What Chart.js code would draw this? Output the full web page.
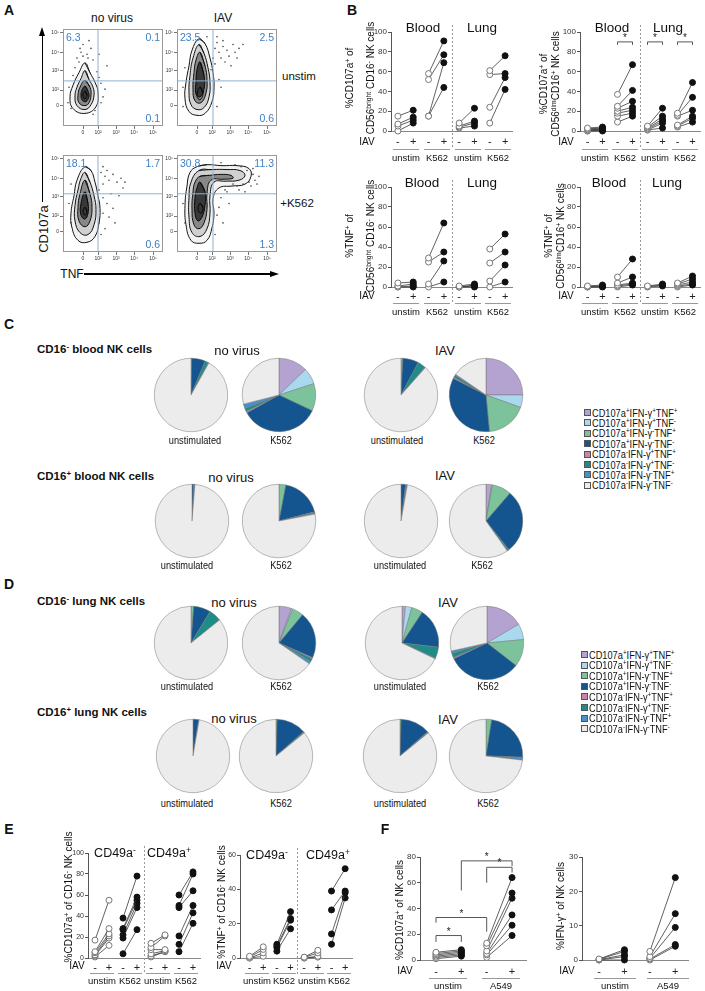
<!DOCTYPE html>
<html>
<head>
<meta charset="utf-8">
<script src="https://cdn.jsdelivr.net/npm/chart.js@4.4.1/dist/chart.umd.min.js"></script>
<style>
body { margin: 0; background: #fff; }
#page { position: relative; width: 705px; height: 991px; overflow: hidden; font-family: 'Liberation Sans', Arial, sans-serif; color: #111; }
#page canvas { position: absolute; }
.t { position: absolute; white-space: nowrap; transform: translate(-50%, -50%); line-height: 1; }
.t.l { transform: translate(0, -50%); }
.t.r { transform: translate(-100%, -50%); }
.t.rot { transform: translate(-50%, -50%) rotate(-90deg); text-align: center; }
.t.narrow { transform: translate(-50%, -50%) scaleX(0.84); }
.t.l.narrow { transform: translate(0, -50%) scaleX(0.84); transform-origin: 0 50%; }
.panel { font-weight: bold; font-size: 14px; }
sup { font-size: 68%; vertical-align: 0.5em; line-height: 0; }
.box { position: absolute; }
</style>
</head>
<body>
<div id="page"></div>
<script>
// ---- data ----
const flowTickText = ['0', '10²', '10³', '10⁴', '10⁵'];
const flowXTicks = [20, 35, 53, 71, 90];
const flowYTicks = [21, 37, 57, 76, 96];

// contour outlines (TNF, CD107a display units 0-100), outer to inner
const flowContours1 = [
  [[22,65],[27,55],[32,45],[35,35],[33,20],[22,13],[10,18],[7,30],[10,42],[16,55]],
  [[22,57],[26,48],[30,40],[31,32],[28,22],[22,17],[14,21],[12,31],[14,40],[18,49]],
  [[22,47],[27,40],[28,32],[26,24],[22,21],[16,24],[15,32],[17,40]],
  [[22,41],[25,36],[26,31],[24,26],[22,25],[19,27],[18,32],[19,37]],
  [[22,36],[24,32],[22,28],[20,32]]
];
const flowDots1 = [[14,70],[18,76],[24,74],[28,80],[20,84],[30,68],[12,60],[34,56],[38,44],[40,30],[8,18],[6,40],[32,16],[44,62],[26,88],[16,66],[36,74],[42,38],[10,52],[30,12],[20,72],[25,70],[17,80],[38,24],[5,24],[36,50]];
const flowContours2 = [
  [[22,90],[28,85],[33,70],[36,55],[37,40],[35,25],[28,13],[20,11],[12,15],[8,28],[9,45],[12,62],[15,78]],
  [[22,84],[27,75],[31,60],[33,45],[32,30],[27,19],[20,17],[14,22],[12,35],[13,52],[16,70]],
  [[23,76],[28,62],[30,48],[29,34],[24,24],[18,26],[16,38],[17,55],[19,68]],
  [[23,66],[27,52],[27,38],[23,30],[19,33],[19,46],[20,58]],
  [[23,40],[26,34],[23,27],[20,31]]
];
const flowDots2 = [[38,80],[42,76],[46,82],[50,78],[44,70],[52,72],[40,86],[56,84],[48,66],[36,70],[30,92],[58,76],[62,80],[8,60],[6,40],[40,20],[44,40],[54,62],[60,70],[34,58],[40,92],[46,88],[38,64],[6,20],[42,48],[66,84]];
const flowContours3 = [
  [[22,88],[28,84],[32,72],[35,58],[37,45],[36,30],[32,16],[24,10],[15,12],[9,25],[8,40],[11,58],[14,74]],
  [[22,82],[27,72],[31,58],[33,44],[31,28],[25,18],[17,20],[12,32],[12,48],[15,64],[18,76]],
  [[22,74],[27,60],[29,46],[27,32],[22,26],[16,32],[15,46],[17,60]],
  [[22,62],[25,50],[25,40],[22,34],[18,38],[18,50]],
  [[22,46],[24,42],[22,38],[20,42]]
];
const flowDots3 = [[38,82],[42,78],[46,74],[50,80],[54,72],[40,70],[36,64],[58,76],[48,60],[44,50],[40,40],[36,30],[50,45],[8,30],[8,70],[56,58],[60,66],[38,18],[46,36],[52,30],[40,88],[44,84],[62,72],[40,56],[6,50],[42,24]];
const flowContours4 = [
  [[20,88],[30,90],[45,89],[60,89],[72,86],[74,78],[68,70],[55,68],[42,66],[36,55],[37,40],[35,25],[30,12],[22,9],[14,12],[9,28],[8,48],[10,68],[13,82]],
  [[22,84],[35,85],[50,85],[63,84],[68,79],[62,74],[48,73],[37,72],[33,58],[33,40],[30,24],[23,16],[15,20],[12,36],[12,56],[14,72]],
  [[23,78],[32,79],[44,80],[54,79],[56,76],[46,75],[34,74],[30,60],[30,44],[27,30],[22,24],[17,28],[15,44],[16,62],[18,72]],
  [[23,72],[28,62],[28,48],[25,36],[21,32],[18,40],[18,56],[20,66]],
  [[23,50],[26,46],[24,40],[21,44]]
];
const flowDots4 = [[72,72],[76,80],[74,68],[66,70],[70,84],[78,74],[60,68],[56,70],[50,62],[44,56],[40,38],[46,30],[52,50],[6,50],[8,30],[38,18],[80,70],[64,88],[58,90],[44,92],[48,64],[62,64],[76,86],[68,62],[42,46],[82,78]];
const quadNoVirusUnstim = ['6.3', '0.1', '0.1'];
const quadIavUnstim = ['23.5', '2.5', '0.6'];
const quadNoVirusK562 = ['18.1', '1.7', '0.6'];
const quadIavK562 = ['30.8', '11.3', '1.3'];

// [IAV-, IAV+] pairs per donor
const b1BloodUnstim = [[15,21],[7,14],[5,11],[0,8]];
const b1BloodK562 = [[58,91],[52,77],[15,69],[15,44]];
const b1LungUnstim = [[8,23],[5,10],[4,8],[3,5]];
const b1LungK562 = [[61,76],[57,58],[24,54],[8,42]];
const b2BloodUnstim = [[3,4],[2,3],[2,2],[1,2],[1,1],[0,1],[0,0]];
const b2BloodK562 = [[37,67],[25,41],[23,30],[20,24],[18,21],[15,18],[9,15]];
const b2LungUnstim = [[5,23],[4,15],[3,12],[2,10],[1,8],[1,3]];
const b2LungK562 = [[18,49],[16,34],[15,21],[6,15],[5,13],[4,9]];
const b3BloodUnstim = [[4,5],[1,3],[0,1],[0,0]];
const b3BloodK562 = [[29,64],[25,35],[3,26],[0,5]];
const b3LungUnstim = [[1,3],[0,2],[0,1],[0,0]];
const b3LungK562 = [[38,53],[24,35],[6,22],[0,5]];
const b4BloodUnstim = [[1,2],[0.5,1],[0,0.5],[0,0]];
const b4BloodK562 = [[10,28],[4,10],[2,4],[1,3],[0,2]];
const b4LungUnstim = [[1,3],[0.5,2],[0,1]];
const b4LungK562 = [[4,11],[3,8],[2,5],[1,3],[0,2]];
const b2Brackets = [{x0:2,x1:3,y:90,l:87,r:87},{x0:4,x1:5,y:90,l:87,r:87},{x0:6,x1:7,y:90,l:87,r:87}];

const e1NegUnstim = [[17,55],[6,28],[5,23],[3,21],[2,19],[1,12]];
const e1NegK562 = [[38,78],[28,58],[27,55],[22,52],[19,48],[4,27]];
const e1PosUnstim = [[14,22],[10,21],[8,8],[4,7],[2,6],[1,6]];
const e1PosK562 = [[60,82],[50,80],[48,64],[21,50],[13,43],[6,33]];
const e2NegUnstim = [[1,6.5],[0.5,5],[0,3],[0,1]];
const e2NegK562 = [[8,27],[7,23],[6,22],[4,17]];
const e2PosUnstim = [[0.5,4.5],[0.3,3],[0,1],[0,0.5]];
const e2PosK562 = [[39,52],[28,39],[14,38],[8,35]];

const f1Unstim = [[6,8],[5,7],[4,6],[3,5],[2,4],[1,3]];
const f1A549 = [[13,64],[11,52],[7,48],[5,35],[4,27],[2,19]];
const f2Unstim = [[0.3,3],[0.2,2.5],[0.1,1.5],[0,1],[0,0]];
const f2A549 = [[2.5,24],[1,13.5],[0.5,9.5],[0.3,4.5],[0,4]];
const f1Brackets = [{x0:0,x1:1,y:19,l:14,r:14},{x0:0,x1:2,y:33,l:29,r:22},{x0:1,x1:3,y:77,l:54,r:73},{x0:2,x1:3,y:72,l:60,r:68}];

// pie subsets: CD107a / IFN-g / TNF
const subsetSigns = [['+','+','+'],['+','+','-'],['+','-','+'],['+','-','-'],['-','+','+'],['-','+','-'],['-','-','+'],['-','-','-']];
const subsetColors = ['#b4a3d0', '#a9d8ef', '#7cc39b', '#14548f', '#c984ad', '#208c88', '#4b8fcb', '#ececec'];
const cBloodNegNoVirusUnstim = [0, 0, 0.3, 6, 0, 1.5, 0.3, 91.9];
const cBloodNegNoVirusK562 = [12.8, 7.2, 12, 35, 0.6, 1.4, 2, 29];
const cBloodNegIavUnstim = [0, 0, 0.8, 7, 0, 3.5, 0.3, 88.4];
const cBloodNegIavK562 = [25, 5.5, 18, 34, 0.5, 1, 0.5, 15.5];
const cBloodPosNoVirusUnstim = [0, 0, 0, 0.8, 0, 0.3, 0.2, 98.7];
const cBloodPosNoVirusK562 = [0, 0, 3, 18, 0.2, 0.3, 0.5, 78];
const cBloodPosIavUnstim = [0, 0, 0, 2, 0, 0.3, 0.5, 97.2];
const cBloodPosIavK562 = [2.5, 0.3, 8.5, 28, 0, 0.5, 0.4, 59.8];
const dLungNegNoVirusUnstim = [0, 0, 1.2, 7.5, 0, 5.5, 0, 85.8];
const dLungNegNoVirusK562 = [5.5, 0.6, 5, 20.5, 0.5, 1.3, 1.2, 65.4];
const dLungNegIavUnstim = [1.5, 2.8, 5, 17.5, 0, 5, 0.3, 67.9];
const dLungNegIavK562 = [16.5, 7, 12, 32.5, 0.5, 2, 1, 28.5];
const dLungPosNoVirusUnstim = [0, 0, 0, 2.5, 0, 0, 0.2, 97.3];
const dLungPosNoVirusK562 = [0, 0, 0.5, 13, 0, 0.3, 0.3, 85.9];
const dLungPosIavUnstim = [0, 0, 0.5, 13, 0, 0.3, 0.3, 85.9];
const dLungPosIavK562 = [0, 0, 2.5, 23, 0, 0.3, 1, 73.2];

// ---- helpers ----
Chart.defaults.font.family = "'Liberation Sans', Arial, sans-serif";
Chart.defaults.animation = false;
Chart.defaults.events = [];
Chart.defaults.responsive = false;
Chart.defaults.layout.autoPadding = false;
Chart.defaults.plugins.legend.display = false;
Chart.defaults.plugins.tooltip.enabled = false;

const page = document.getElementById('page');

function label(html, x, y, css, cls) {
  const d = document.createElement('div');
  d.className = 't ' + (cls || '');
  d.innerHTML = html;
  d.style.left = x + 'px';
  d.style.top = y + 'px';
  if (css) d.style.cssText += css;
  page.appendChild(d);
  return d;
}

function rect(x, y, w, h, css) {
  const d = document.createElement('div');
  d.className = 'box';
  d.style.cssText = `left:${x}px;top:${y}px;width:${w}px;height:${h}px;` + (css || '');
  page.appendChild(d);
}

function canvasAt(x, y, w, h) {
  const c = document.createElement('canvas');
  c.width = w;
  c.height = h;
  c.style.left = x + 'px';
  c.style.top = y + 'px';
  c.style.width = w + 'px';
  c.style.height = h + 'px';
  page.appendChild(c);
  return c;
}

// flow plot: plot box left/top, 100 x 97 px
function flowPlot(L, T, contours, dots, qx, qy, quad) {
  const c = canvasAt(L - 16, T - 4, 120, 113);
  const shades = ['rgba(0,0,0,0.05)', 'rgba(0,0,0,0.14)', 'rgba(0,0,0,0.35)', 'rgba(0,0,0,0.6)', 'rgba(255,255,255,0.9)'];
  const datasets = [{ type: 'scatter', data: dots.map(p => ({x: p[0], y: p[1]})), pointRadius: 0.8, backgroundColor: '#444', borderWidth: 0 }];
  contours.forEach((ring, i) => {
    const pts = ring.concat([ring[0], ring[1]]).map(p => ({x: p[0], y: p[1]}));
    datasets.push({ type: 'scatter', showLine: true, data: pts, tension: 0.45, pointRadius: 0,
      borderColor: '#111', borderWidth: 1, fill: 'shape', backgroundColor: shades[i] });
  });
  new Chart(c, {
    data: { datasets },
    options: {
      layout: { padding: { top: 4, right: 4, left: 0, bottom: 0 } },
      scales: {
        x: { type: 'linear', min: 0, max: 100,
          afterBuildTicks: s => { s.ticks = flowXTicks.map(v => ({value: v})); },
          afterFit: s => { s.height = 12; },
          ticks: { autoSkip: false, maxRotation: 0, padding: 1, font: { size: 5 }, color: '#333', callback: (v, i) => flowTickText[i] },
          grid: { drawOnChartArea: false, tickLength: 3, color: '#777' }, border: { display: false } },
        y: { type: 'linear', min: 0, max: 100,
          afterBuildTicks: s => { s.ticks = flowYTicks.map(v => ({value: v})); },
          afterFit: s => { s.width = 16; },
          ticks: { autoSkip: false, padding: 1, font: { size: 5 }, color: '#333', callback: (v, i) => flowTickText[i] },
          grid: { drawOnChartArea: false, tickLength: 3, color: '#777' }, border: { display: false } }
      }
    },
    plugins: [{
      id: 'frame',
      afterDraw(ch) {
        const a = ch.chartArea, ctx = ch.ctx;
        const x = ch.scales.x.getPixelForValue(qx), y = ch.scales.y.getPixelForValue(qy);
        ctx.save();
        ctx.strokeStyle = '#8fb0d2';
        ctx.lineWidth = 1;
        ctx.beginPath();
        ctx.moveTo(x, a.top); ctx.lineTo(x, a.bottom);
        ctx.moveTo(a.left, y); ctx.lineTo(a.right, y);
        ctx.stroke();
        ctx.strokeStyle = '#999';
        ctx.strokeRect(a.left + 0.5, a.top + 0.5, a.right - a.left - 1, a.bottom - a.top - 1);
        ctx.restore();
      }
    }]
  });
  const qs = 'font-size:10.5px;color:#3f7fc0;';
  label(quad[0], L + 3, T + 8, qs, 'l');
  label(quad[1], L + 97, T + 8, qs, 'r');
  label(quad[2], L + 97, T + 89, qs, 'r');
}

// paired dot plot; groups: {x, pairs, fill:[bool,bool]}
function pairPlot(o) {
  const yw = 26, pt = 7, pr = 6, xh = 16;
  const c = canvasAt(o.axisX - yw, o.topY - pt, yw + o.right - o.axisX + pr, pt + o.botY - o.topY + xh);
  const datasets = [];
  const xTicks = [];
  o.groups.forEach(g => {
    xTicks.push(g.x, g.x + 1);
    g.pairs.forEach(p => datasets.push({
      type: 'scatter', showLine: true, clip: false,
      data: [{x: g.x, y: p[0]}, {x: g.x + 1, y: p[1]}],
      borderColor: '#3a3a3a', borderWidth: 0.8,
      pointRadius: 3, pointBorderWidth: 1,
      pointBackgroundColor: g.fill.map(f => f ? '#111' : '#fff'),
      pointBorderColor: g.fill.map(f => f ? '#111' : '#777')
    }));
  });
  new Chart(c, {
    data: { datasets },
    options: {
      layout: { padding: { top: pt, right: pr, left: 0, bottom: 0 } },
      scales: {
        x: { type: 'linear', min: o.xMin, max: o.xMax,
          afterBuildTicks: s => { s.ticks = xTicks.map(v => ({value: v})); },
          afterFit: s => { s.height = xh; },
          ticks: { autoSkip: false, maxRotation: 0, padding: o.tickPad || 4, font: { size: 11 }, color: '#222', callback: (v, i) => i % 2 ? '+' : '-' },
          grid: { display: false, drawTicks: false },
          border: { color: '#888', width: 1 } },
        y: { type: 'linear', min: 0, max: o.yMax,
          afterFit: s => { s.width = yw; },
          ticks: { stepSize: o.yStep, font: { size: o.tickFont || 8 }, color: '#333', padding: 1 },
          grid: { drawOnChartArea: false, tickLength: 3, color: '#555' },
          border: { color: '#555', width: 1 } }
      }
    },
    plugins: [{
      id: 'marks',
      afterDraw(ch) {
        const ctx = ch.ctx, sx = ch.scales.x, sy = ch.scales.y;
        ctx.save();
        if (o.sep !== undefined) {
          const x = Math.round(sx.getPixelForValue(o.sep)) + 0.5;
          ctx.strokeStyle = '#999';
          ctx.lineWidth = 1;
          ctx.setLineDash([2, 2]);
          ctx.beginPath();
          ctx.moveTo(x, 0); ctx.lineTo(x, ch.height);
          ctx.stroke();
          ctx.setLineDash([]);
        }
        (o.brackets || []).forEach(b => {
          const x0 = sx.getPixelForValue(b.x0), x1 = sx.getPixelForValue(b.x1), y = sy.getPixelForValue(b.y);
          ctx.strokeStyle = '#444';
          ctx.lineWidth = 0.9;
          ctx.beginPath();
          ctx.moveTo(x0, sy.getPixelForValue(b.l)); ctx.lineTo(x0, y); ctx.lineTo(x1, y); ctx.lineTo(x1, sy.getPixelForValue(b.r));
          ctx.stroke();
          ctx.fillStyle = '#222';
          ctx.font = '10px "Liberation Sans", Arial';
          ctx.textAlign = 'center';
          ctx.textBaseline = 'alphabetic';
          ctx.fillText('*', (x0 + x1) / 2, y - 1);
        });
        ctx.restore();
      }
    }]
  });
}

function groupLabels(xs, names, lineY, textY, half) {
  xs.forEach((x, i) => {
    rect(x - half, lineY, half * 2, 1, 'background:#999;');
    label(names[i], x, textY, 'font-size:9.5px;');
  });
}

function pie(cx, cy, values) {
  const c = canvasAt(cx - 38, cy - 38, 76, 76);
  new Chart(c, {
    type: 'pie',
    data: {
      labels: subsetSigns.map(s => `CD107a${s[0]}IFN-γ${s[1]}TNF${s[2]}`),
      datasets: [{ data: values, backgroundColor: subsetColors, borderColor: '#777', borderWidth: 0.5 }]
    },
    options: { layout: { padding: 1 } }
  });
}

function legend(x, y0, step) {
  subsetSigns.forEach((s, i) => {
    const y = y0 + i * step;
    rect(x, y - 3, 5, 5, `background:${subsetColors[i]};border:0.8px solid #555;`);
    label(`CD107a<sup>${s[0]}</sup>IFN-γ<sup>${s[1]}</sup>TNF<sup>${s[2]}</sup>`, x + 8, y + 0.5, 'font-size:11px;', 'l narrow');
  });
}

// ---- panel A ----
label('A', 9, 10, '', 'panel');
label('no virus', 112, 18, 'font-size:12px;');
label('IAV', 223, 18, 'font-size:12px;');
label('unstim', 299, 77, 'font-size:11.5px;');
label('+K562', 297, 204, 'font-size:11.5px;');
label('CD107a', 43, 229, 'font-size:13px;', 'rot');
label('TNF', 72, 274, 'font-size:12px;');
rect(42.2, 34, 1.3, 168, 'background:#000;');
rect(39.3, 27, 0, 0, 'border-left:3.5px solid transparent;border-right:3.5px solid transparent;border-bottom:9px solid #000;');
rect(84, 273.4, 188, 1.3, 'background:#000;');
rect(270, 270.5, 0, 0, 'border-top:3.5px solid transparent;border-bottom:3.5px solid transparent;border-left:9px solid #000;');

flowPlot(63, 29, flowContours1, flowDots1, 35, 46.5, quadNoVirusUnstim);
flowPlot(177, 29, flowContours2, flowDots2, 36, 46.5, quadIavUnstim);
flowPlot(63, 155, flowContours3, flowDots3, 35, 60, quadNoVirusK562);
flowPlot(177, 155, flowContours4, flowDots4, 36, 60, quadIavK562);

// ---- panel B ----
label('B', 352, 10, '', 'panel');
const bGroups = (a, b, c, d) => [
  { x: 0, pairs: a, fill: [false, true] }, { x: 2, pairs: b, fill: [false, true] },
  { x: 4, pairs: c, fill: [false, true] }, { x: 6, pairs: d, fill: [false, true] }
];
pairPlot({ axisX: 391, topY: 32, botY: 131, right: 512, yMax: 100, yStep: 20, xMin: -0.45, xMax: 7.45, sep: 3.5,
  groups: bGroups(b1BloodUnstim, b1BloodK562, b1LungUnstim, b1LungK562) });
pairPlot({ axisX: 580, topY: 32, botY: 131, right: 700, yMax: 100, yStep: 20, xMin: -0.5, xMax: 7.5, sep: 3.5,
  groups: bGroups(b2BloodUnstim, b2BloodK562, b2LungUnstim, b2LungK562), brackets: b2Brackets });
pairPlot({ axisX: 391, topY: 187, botY: 287, right: 512, yMax: 100, yStep: 20, xMin: -0.45, xMax: 7.45, sep: 3.5, tickPad: 3,
  groups: bGroups(b3BloodUnstim, b3BloodK562, b3LungUnstim, b3LungK562) });
pairPlot({ axisX: 580, topY: 187, botY: 287, right: 700, yMax: 100, yStep: 20, xMin: -0.5, xMax: 7.5, sep: 3.5, tickPad: 3,
  groups: bGroups(b4BloodUnstim, b4BloodK562, b4LungUnstim, b4LungK562) });

const titleCss = 'font-size:13.5px;';
label('Blood', 423, 28, titleCss); label('Lung', 482, 28, titleCss);
label('Blood', 612, 28, titleCss); label('Lung', 668, 28, titleCss);
label('Blood', 422, 183, titleCss); label('Lung', 482, 183, titleCss);
label('Blood', 609, 183, titleCss); label('Lung', 667, 183, titleCss);
label('IAV', 367, 142, 'font-size:10px;'); label('IAV', 566, 142, 'font-size:10px;');
label('IAV', 367, 296, 'font-size:10px;'); label('IAV', 566, 296, 'font-size:10px;');
const bNames = ['unstim', 'K562', 'unstim', 'K562'];
groupLabels([406, 437, 468, 498], bNames, 149, 158, 13);
groupLabels([595, 625, 655, 685], bNames, 149, 158, 13);
groupLabels([406, 437, 468, 498], bNames, 303, 312, 13);
groupLabels([595, 625, 655, 685], bNames, 303, 312, 13);
const yt = 'font-size:10px;line-height:21px;';
label('%CD107a<sup>+</sup> of<br>CD56<sup>bright</sup> CD16<sup>-</sup> NK cells', 360, 78, yt, 'rot');
label('%CD107a<sup>+</sup> of<br>CD56<sup>dim</sup>CD16<sup>+</sup> NK cells', 550, 84, 'font-size:10px;line-height:12px;', 'rot');
label('%TNF<sup>+</sup> of<br>CD56<sup>bright</sup> CD16<sup>-</sup> NK cells', 360, 236, yt, 'rot');
label('%TNF<sup>+</sup> of<br>CD56<sup>dim</sup>CD16<sup>+</sup> NK cells', 555, 236, 'font-size:10px;line-height:12px;', 'rot');

// ---- panels C and D ----
label('C', 9, 324, '', 'panel');
label('D', 9, 584, '', 'panel');
const head = 'font-size:11.5px;font-weight:bold;';
label('CD16<sup>-</sup> blood NK cells', 37, 350, head, 'l');
label('CD16<sup>+</sup> blood NK cells', 37, 477, head, 'l');
label('CD16<sup>-</sup> lung NK cells', 37, 602, head, 'l');
label('CD16<sup>+</sup> lung NK cells', 37, 713, head, 'l');
const sub = 'font-size:13px;';
label('no virus', 237, 350, sub); label('IAV', 445, 350, sub);
label('no virus', 231, 477, sub); label('IAV', 445, 475, sub);
label('no virus', 234, 602, sub); label('IAV', 448, 602, sub);
label('no virus', 234, 718, sub); label('IAV', 448, 719, sub);

pie(191, 394.5, cBloodNegNoVirusUnstim);
pie(279, 394.5, cBloodNegNoVirusK562);
pie(400.5, 394.5, cBloodNegIavUnstim);
pie(486, 394.5, cBloodNegIavK562);
pie(192, 520.5, cBloodPosNoVirusUnstim);
pie(279, 520.5, cBloodPosNoVirusK562);
pie(400.5, 520.5, cBloodPosIavUnstim);
pie(485.5, 520.5, cBloodPosIavK562);
pie(191, 643, dLungNegNoVirusUnstim);
pie(279, 643, dLungNegNoVirusK562);
pie(402, 643, dLungNegIavUnstim);
pie(487, 643, dLungNegIavK562);
pie(193, 755.5, dLungPosNoVirusUnstim);
pie(276, 755.5, dLungPosNoVirusK562);
pie(399.5, 755.5, dLungPosIavUnstim);
pie(485.5, 755.5, dLungPosIavK562);

const pl = 'font-size:11px;';
[[440, [195, 281, 397, 484]], [565, [187, 281, 400, 482]], [686, [187, 281, 400, 488]], [803, [187, 281, 400, 488]]].forEach(r => {
  label('unstimulated', r[1][0], r[0], pl, 'narrow');
  label('K562', r[1][1], r[0], pl, 'narrow');
  label('unstimulated', r[1][2], r[0], pl, 'narrow');
  label('K562', r[1][3], r[0], pl, 'narrow');
});
legend(584, 412, 10.4);
legend(581, 654, 10.6);

// ---- panel E ----
label('E', 9, 829, '', 'panel');
const eGroups = (a, b, c, d) => [
  { x: 0, pairs: a, fill: [false, false] }, { x: 2, pairs: b, fill: [true, true] },
  { x: 4, pairs: c, fill: [false, false] }, { x: 6, pairs: d, fill: [true, true] }
];
pairPlot({ axisX: 88, topY: 853, botY: 958, right: 200, yMax: 100, yStep: 20, xMin: -0.5, xMax: 7.5, sep: 3.5, tickPad: 3, tickFont: 7,
  groups: eGroups(e1NegUnstim, e1NegK562, e1PosUnstim, e1PosK562) });
pairPlot({ axisX: 240, topY: 855, botY: 958, right: 352, yMax: 60, yStep: 20, xMin: -0.7, xMax: 7.5, sep: 3.5, tickPad: 3, tickFont: 7,
  groups: eGroups(e2NegUnstim, e2NegK562, e2PosUnstim, e2PosK562) });
const eTitle = 'font-size:12.5px;';
label('CD49a<sup>-</sup>', 115, 853, eTitle); label('CD49a<sup>+</sup>', 169, 853, eTitle);
label('CD49a<sup>-</sup>', 267, 855, eTitle); label('CD49a<sup>+</sup>', 328, 855, eTitle);
label('%CD107a<sup>+</sup> of CD16<sup>-</sup> NK cells', 69, 897, 'font-size:10px;', 'rot');
label('%TNF<sup>+</sup> of CD16<sup>-</sup> NK cells', 222, 902, 'font-size:10px;', 'rot');
label('IAV', 77, 966, 'font-size:10px;');
label('IAV', 224, 966, 'font-size:10px;');
groupLabels([102, 130, 158, 186], bNames, 973, 981, 12);
groupLabels([257, 284, 312, 339], bNames, 973, 981, 12);

// ---- panel F ----
label('F', 385, 829, '', 'panel');
const fGroups = (a, b) => [{ x: 0, pairs: a, fill: [false, true] }, { x: 2, pairs: b, fill: [false, true] }];
pairPlot({ axisX: 420, topY: 857, botY: 960, right: 526, yMax: 80, yStep: 20, xMin: -0.63, xMax: 3.55, tickPad: 5,
  groups: fGroups(f1Unstim, f1A549), brackets: f1Brackets });
pairPlot({ axisX: 582, topY: 857, botY: 960, right: 688, yMax: 30, yStep: 10, xMin: -0.67, xMax: 3.5, tickPad: 5,
  groups: fGroups(f2Unstim, f2A549) });
label('%CD107a<sup>+</sup> of NK cells', 400, 910, 'font-size:10px;', 'rot');
label('%IFN-γ<sup>+</sup> of NK cells', 561, 906, 'font-size:10px;', 'rot');
label('IAV', 405, 971, 'font-size:10px;');
label('IAV', 567, 971, 'font-size:10px;');
groupLabels([448, 501], ['unstim', 'A549'], 978, 986, 19);
groupLabels([615, 668], ['unstim', 'A549'], 978, 986, 21);
</script>
</body>
</html>
